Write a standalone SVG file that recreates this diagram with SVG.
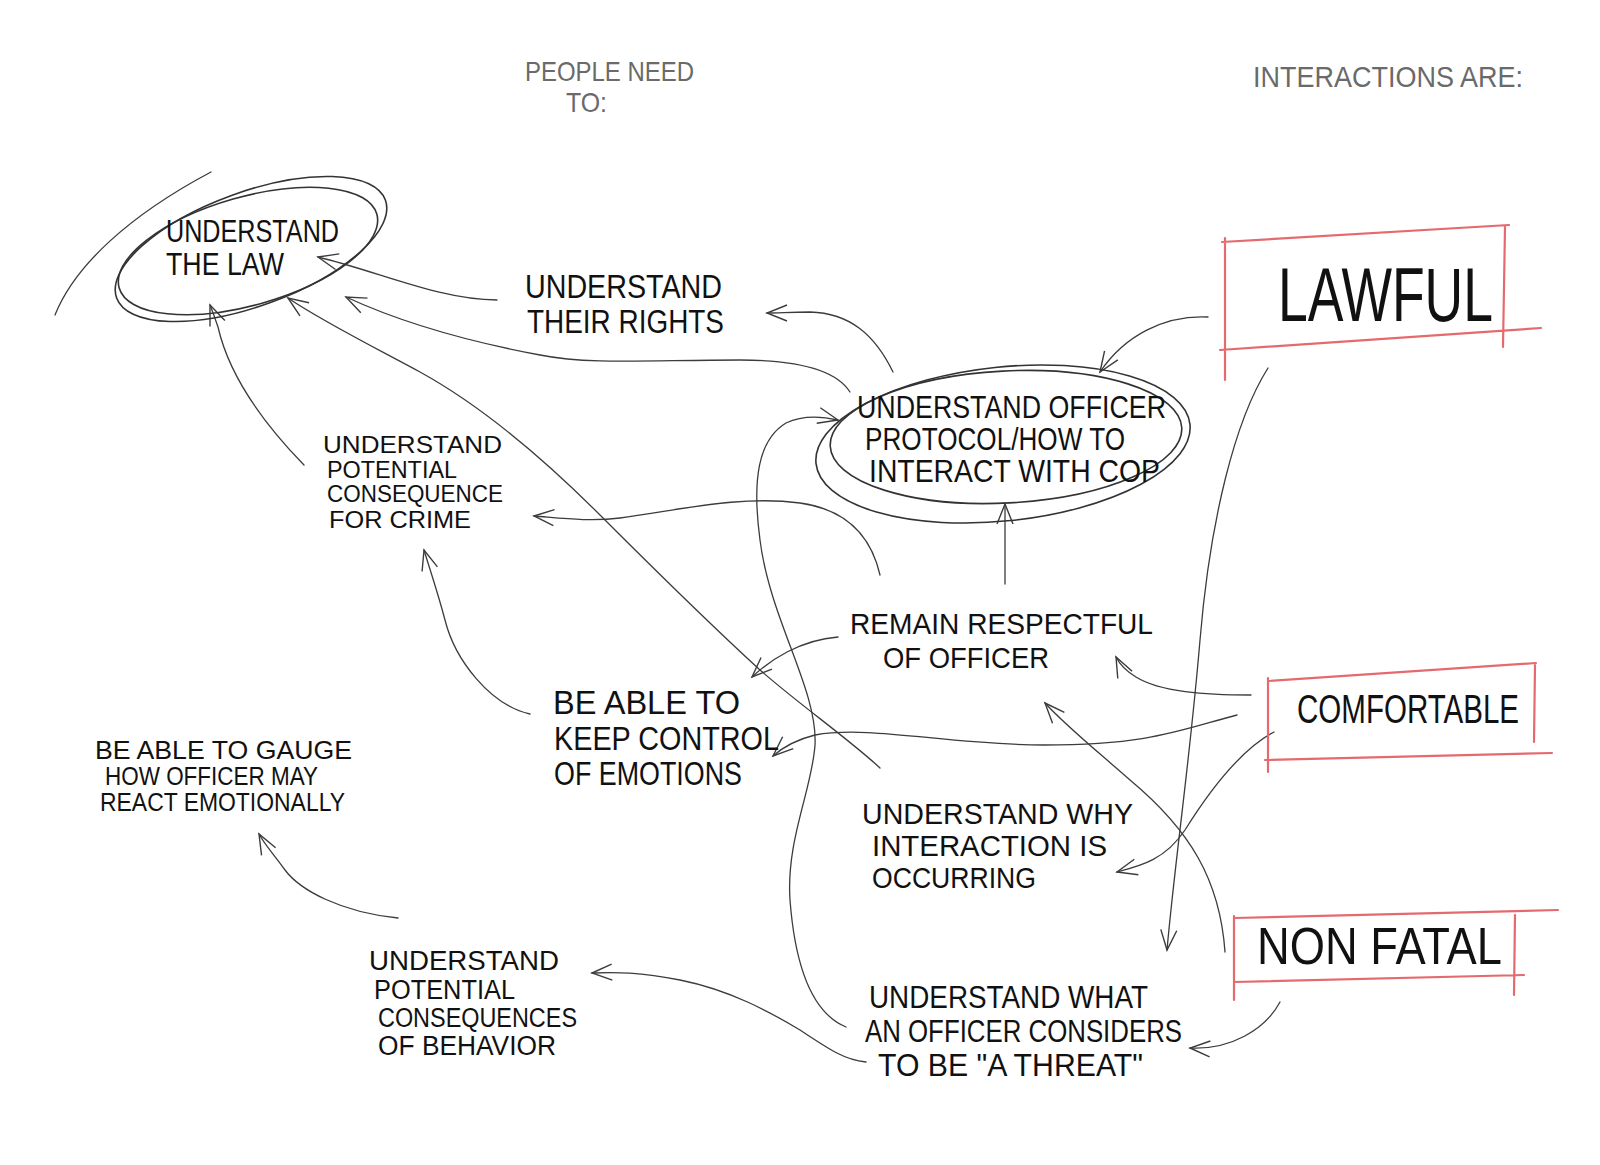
<svg xmlns="http://www.w3.org/2000/svg" width="1600" height="1165" viewBox="0 0 1600 1165">
<defs>
<style>
.t{font-family:"Liberation Sans","DejaVu Sans",sans-serif;fill:#111}
.h{font-family:"Liberation Sans","DejaVu Sans",sans-serif;fill:#6a6a6a}
.c{fill:none;stroke:#3c3c3c;stroke-width:1.3;stroke-linecap:round}
.e{fill:none;stroke:#333;stroke-width:1.6}
.r{fill:none;stroke:#e46a6e;stroke-width:2.2;stroke-linecap:round}
</style>
<marker id="ah" markerUnits="userSpaceOnUse" markerWidth="30" markerHeight="24" viewBox="-25 -12 30 24" refX="0" refY="0" orient="auto">
<path d="M-20,-8 L0,0 L-20,8" fill="none" stroke="#3c3c3c" stroke-width="1.4"/>
</marker>
</defs>
<rect width="1600" height="1165" fill="#fff"/>

<g id="header">
<text class="h" font-size="28"><tspan x="525" y="81" textLength="169" lengthAdjust="spacingAndGlyphs">PEOPLE NEED</tspan><tspan x="566" y="112" textLength="41" lengthAdjust="spacingAndGlyphs">TO:</tspan></text>
<text class="h" x="1253" y="87" font-size="30" textLength="270" lengthAdjust="spacingAndGlyphs">INTERACTIONS ARE:</text>
</g>

<g id="connectors">
<path class="c" d="M497,300 C440,300 380,272 318,257" marker-end="url(#ah)"/>
<path class="c" d="M850,392 C835,368 790,360 740,360 C650,360 590,365 540,355 C460,340 400,322 346,297" marker-end="url(#ah)"/>
<path class="c" d="M893,372 C875,335 850,313 810,312 C790,312 780,313 767,313" marker-end="url(#ah)"/>
<path class="c" d="M1208,317 C1165,315 1125,335 1100,372" marker-end="url(#ah)"/>
<path class="c" d="M1268,368 C1235,420 1210,520 1200,640 C1190,760 1175,860 1167,950" marker-end="url(#ah)"/>
<path class="c" d="M1005,584 L1005,504" marker-end="url(#ah)"/>
<path class="c" d="M880,575 C872,540 850,510 800,503 C740,495 680,510 620,518 C590,522 560,518 534,516" marker-end="url(#ah)"/>
<path class="c" d="M846,1027 C812,1013 795,965 790,900 C786,840 812,790 815,745 C818,690 770,620 760,540 C752,480 758,440 786,423 C805,414 825,417 838,420" marker-end="url(#ah)"/>
<path class="c" d="M880,768 C850,740 800,705 760,670 C700,615 650,565 600,515 C540,455 480,405 420,372 C370,345 320,320 288,298" marker-end="url(#ah)"/>
<path class="c" d="M304,465 C270,430 230,380 218,327 C214,315 212,310 210,305" marker-end="url(#ah)"/>
<path class="c" d="M530,714 C490,705 455,660 445,620 C437,590 430,570 424,550" marker-end="url(#ah)"/>
<path class="c" d="M838,637 C800,640 770,660 752,677" marker-end="url(#ah)"/>
<path class="c" d="M1237,715 C1180,730 1150,745 1044,745 C950,745 870,725 815,735 C795,740 782,748 773,756" marker-end="url(#ah)"/>
<path class="c" d="M1251,695 C1205,695 1160,692 1136,677 C1126,671 1120,665 1116,657" marker-end="url(#ah)"/>
<path class="c" d="M1274,732 C1240,750 1210,790 1185,830 C1165,860 1140,866 1117,872" marker-end="url(#ah)"/>
<path class="c" d="M1225,952 C1220,880 1190,830 1130,780 C1090,745 1065,725 1045,703" marker-end="url(#ah)"/>
<path class="c" d="M1280,1002 C1265,1030 1230,1050 1190,1048" marker-end="url(#ah)"/>
<path class="c" d="M866,1062 C845,1060 830,1050 800,1030 C770,1012 730,990 680,980 C640,972 615,972 592,973" marker-end="url(#ah)"/>
<path class="c" d="M398,918 C340,912 300,890 285,870 C272,852 265,845 259,834" marker-end="url(#ah)"/>
</g>

<g id="n-law">
<ellipse class="e" cx="251" cy="249" rx="143" ry="57" transform="rotate(-20 251 249)"/>
<ellipse class="e" cx="248" cy="251" rx="134" ry="54" transform="rotate(-16 248 251)"/>
<path class="c" d="M55,315 C75,265 130,215 211,172"/>
<text class="t" font-size="32"><tspan x="166" y="242" textLength="173" lengthAdjust="spacingAndGlyphs">UNDERSTAND</tspan><tspan x="166" y="275" textLength="118" lengthAdjust="spacingAndGlyphs">THE LAW</tspan></text>
</g>

<g id="n-rights">
<text class="t" font-size="34"><tspan x="525" y="298" textLength="197" lengthAdjust="spacingAndGlyphs">UNDERSTAND</tspan><tspan x="527" y="333" textLength="197" lengthAdjust="spacingAndGlyphs">THEIR RIGHTS</tspan></text>
</g>

<g id="n-officer">
<ellipse class="e" cx="1003" cy="444" rx="188" ry="77" transform="rotate(-6 1003 444)"/>
<ellipse class="e" cx="1006" cy="437" rx="176" ry="66" transform="rotate(-3 1006 437)"/>
<text class="t" font-size="31"><tspan x="857" y="418" textLength="309" lengthAdjust="spacingAndGlyphs">UNDERSTAND OFFICER</tspan><tspan x="865" y="450" textLength="260" lengthAdjust="spacingAndGlyphs">PROTOCOL/HOW TO</tspan><tspan x="869" y="482" textLength="291" lengthAdjust="spacingAndGlyphs">INTERACT WITH COP</tspan></text>
</g>

<g id="n-crime">
<text class="t" font-size="24"><tspan x="323" y="453" textLength="179" lengthAdjust="spacingAndGlyphs">UNDERSTAND</tspan><tspan x="327" y="478" textLength="130" lengthAdjust="spacingAndGlyphs">POTENTIAL</tspan><tspan x="327" y="502" textLength="176" lengthAdjust="spacingAndGlyphs">CONSEQUENCE</tspan><tspan x="329" y="528" textLength="142" lengthAdjust="spacingAndGlyphs">FOR CRIME</tspan></text>
</g>

<g id="n-respect">
<text class="t" font-size="29"><tspan x="850" y="634" textLength="303" lengthAdjust="spacingAndGlyphs">REMAIN RESPECTFUL</tspan><tspan x="883" y="668" textLength="166" lengthAdjust="spacingAndGlyphs">OF OFFICER</tspan></text>
</g>

<g id="n-emotions">
<text class="t" font-size="33"><tspan x="553" y="714" textLength="187" lengthAdjust="spacingAndGlyphs">BE ABLE TO</tspan><tspan x="554" y="750" textLength="225" lengthAdjust="spacingAndGlyphs">KEEP CONTROL</tspan><tspan x="554" y="785" textLength="188" lengthAdjust="spacingAndGlyphs">OF EMOTIONS</tspan></text>
</g>

<g id="n-gauge">
<text class="t" font-size="25"><tspan x="95" y="759" textLength="257" lengthAdjust="spacingAndGlyphs">BE ABLE TO GAUGE</tspan><tspan x="105" y="785" textLength="213" lengthAdjust="spacingAndGlyphs">HOW OFFICER MAY</tspan><tspan x="100" y="811" textLength="245" lengthAdjust="spacingAndGlyphs">REACT EMOTIONALLY</tspan></text>
</g>

<g id="n-why">
<text class="t" font-size="30"><tspan x="862" y="824" textLength="271" lengthAdjust="spacingAndGlyphs">UNDERSTAND WHY</tspan><tspan x="872" y="856" textLength="235" lengthAdjust="spacingAndGlyphs">INTERACTION IS</tspan><tspan x="872" y="888" textLength="164" lengthAdjust="spacingAndGlyphs">OCCURRING</tspan></text>
</g>

<g id="n-behavior">
<text class="t" font-size="27"><tspan x="369" y="970" textLength="190" lengthAdjust="spacingAndGlyphs">UNDERSTAND</tspan><tspan x="374" y="999" textLength="141" lengthAdjust="spacingAndGlyphs">POTENTIAL</tspan><tspan x="378" y="1027" textLength="199" lengthAdjust="spacingAndGlyphs">CONSEQUENCES</tspan><tspan x="378" y="1055" textLength="178" lengthAdjust="spacingAndGlyphs">OF BEHAVIOR</tspan></text>
</g>

<g id="n-threat">
<text class="t" font-size="32"><tspan x="869" y="1008" textLength="279" lengthAdjust="spacingAndGlyphs">UNDERSTAND WHAT</tspan><tspan x="865" y="1042" textLength="317" lengthAdjust="spacingAndGlyphs">AN OFFICER CONSIDERS</tspan><tspan x="878" y="1076" textLength="265" lengthAdjust="spacingAndGlyphs">TO BE "A THREAT"</tspan></text>
</g>

<g id="n-lawful">
<path class="r" d="M1222,242 L1509,225 M1225,238 L1225,380 M1220,350 L1541,328 M1505,227 L1503,347"/>
<text class="t" x="1278" y="321" font-size="76" textLength="215" lengthAdjust="spacingAndGlyphs">LAWFUL</text>
</g>

<g id="n-comfortable">
<path class="r" d="M1268,681 L1536,663 M1268,678 L1268,772 M1265,760 L1552,753 M1535,665 L1534,742"/>
<text class="t" x="1297" y="723" font-size="40" textLength="222" lengthAdjust="spacingAndGlyphs">COMFORTABLE</text>
</g>

<g id="n-nonfatal">
<path class="r" d="M1234,918 L1558,910 M1234,916 L1234,1000 M1234,982 L1524,975 M1515,915 L1514,995"/>
<text class="t" x="1257" y="964" font-size="52" textLength="245" lengthAdjust="spacingAndGlyphs">NON FATAL</text>
</g>
</svg>
